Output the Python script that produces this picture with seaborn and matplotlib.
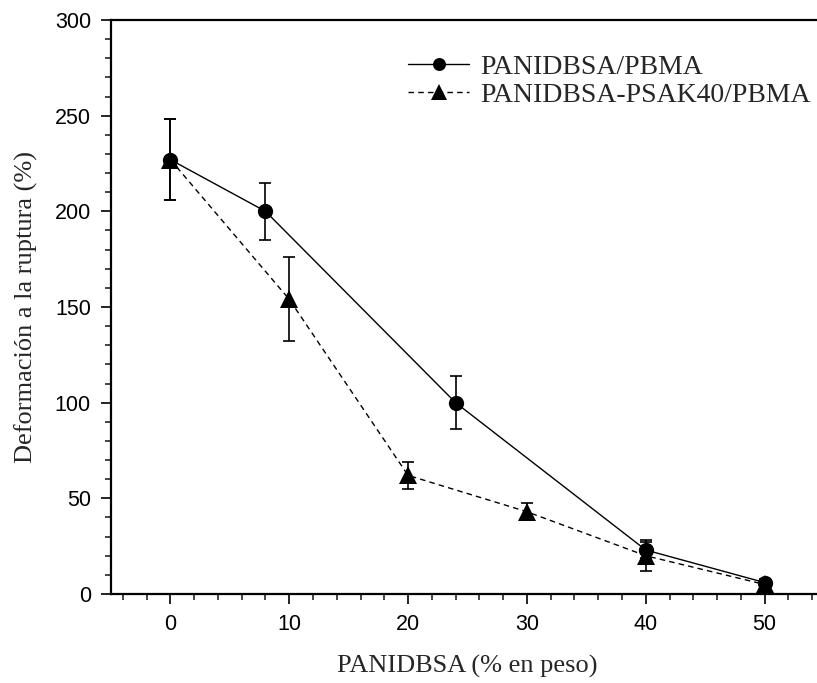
import matplotlib
matplotlib.use("Agg")
import matplotlib.pyplot as plt
from matplotlib.ticker import MultipleLocator
import numpy as np
import pandas as pd
import seaborn as sns

# Elongation at break vs. PANIDBSA content
x_pbma = [0, 8, 24, 40, 50]
y_pbma = [227, 200, 100, 23, 6]
err_pbma = [21, 15, 14, 4, 2]

x_psak = [0, 10, 20, 30, 40, 50]
y_psak = [227, 154, 62, 43, 20, 5]
err_psak = [21, 22, 7, 4.5, 8, 1.5]

label_pbma = "PANIDBSA/PBMA"
label_psak = "PANIDBSA-PSAK40/PBMA"

xticks = [0, 10, 20, 30, 40, 50]
yticks = [0, 50, 100, 150, 200, 250, 300]

sns.set_style("ticks")
plt.rcParams["font.family"] = ["Liberation Sans", "DejaVu Sans"]

df_pbma = pd.DataFrame({"x": x_pbma, "y": y_pbma})
df_psak = pd.DataFrame({"x": x_psak, "y": y_psak})

fig = plt.figure(figsize=(8.17, 6.83), dpi=100)
W, H = 817, 683
ax = fig.add_axes([111 / W, (H - 594) / H, (824 - 111) / W, (594 - 20) / H])

# error bars first so markers sit on top
ax.errorbar(x_pbma, y_pbma, yerr=err_pbma, fmt="none", ecolor="black",
            elinewidth=1.2, capsize=4.5, capthick=1.2, zorder=2)
ax.errorbar(x_psak, y_psak, yerr=err_psak, fmt="none", ecolor="black",
            elinewidth=1.2, capsize=4.5, capthick=1.2, zorder=2)

sns.lineplot(data=df_psak, x="x", y="y", ax=ax, color="black", linewidth=1.0,
             marker="^", markersize=13, markeredgewidth=0, label=label_psak,
             linestyle=(0, (4, 3)), zorder=3)
sns.lineplot(data=df_pbma, x="x", y="y", ax=ax, color="black", linewidth=1.0,
             marker="o", markersize=11, markeredgewidth=0, label=label_pbma,
             zorder=4)

ax.set_xlim(-5, 55)
ax.set_ylim(0, 300)
ax.set_xticks(xticks)
ax.set_yticks(yticks)
ax.xaxis.set_minor_locator(MultipleLocator(2))
ax.yaxis.set_minor_locator(MultipleLocator(10))
ax.tick_params(axis="both", which="major", direction="out", length=7.5,
               width=1.2, labelsize=15.5, pad=7, colors="black")
ax.tick_params(axis="both", which="minor", direction="out", length=4,
               width=1.2)

for side in ["left", "bottom", "top", "right"]:
    ax.spines[side].set_linewidth(1.6)
    ax.spines[side].set_color("black")

serif = ["Liberation Serif", "DejaVu Serif"]
ax.set_xlabel("PANIDBSA (% en peso)", fontsize=19, family=serif, labelpad=14)
ax.set_ylabel("Deformación a la ruptura (%)", fontsize=19, family=serif,
              labelpad=12)

handles, labels = ax.get_legend_handles_labels()
order = [labels.index(label_pbma), labels.index(label_psak)]
leg = ax.legend([handles[i] for i in order], [labels[i] for i in order],
                loc="upper left", bbox_to_anchor=(0.4166, 0.940),
                frameon=False, borderpad=0, borderaxespad=0,
                handlelength=2.2, handletextpad=0.4, labelspacing=0.08,
                markerscale=0.85,
                prop={"family": serif, "size": 20})

fig.savefig("out.png", dpi=100)
